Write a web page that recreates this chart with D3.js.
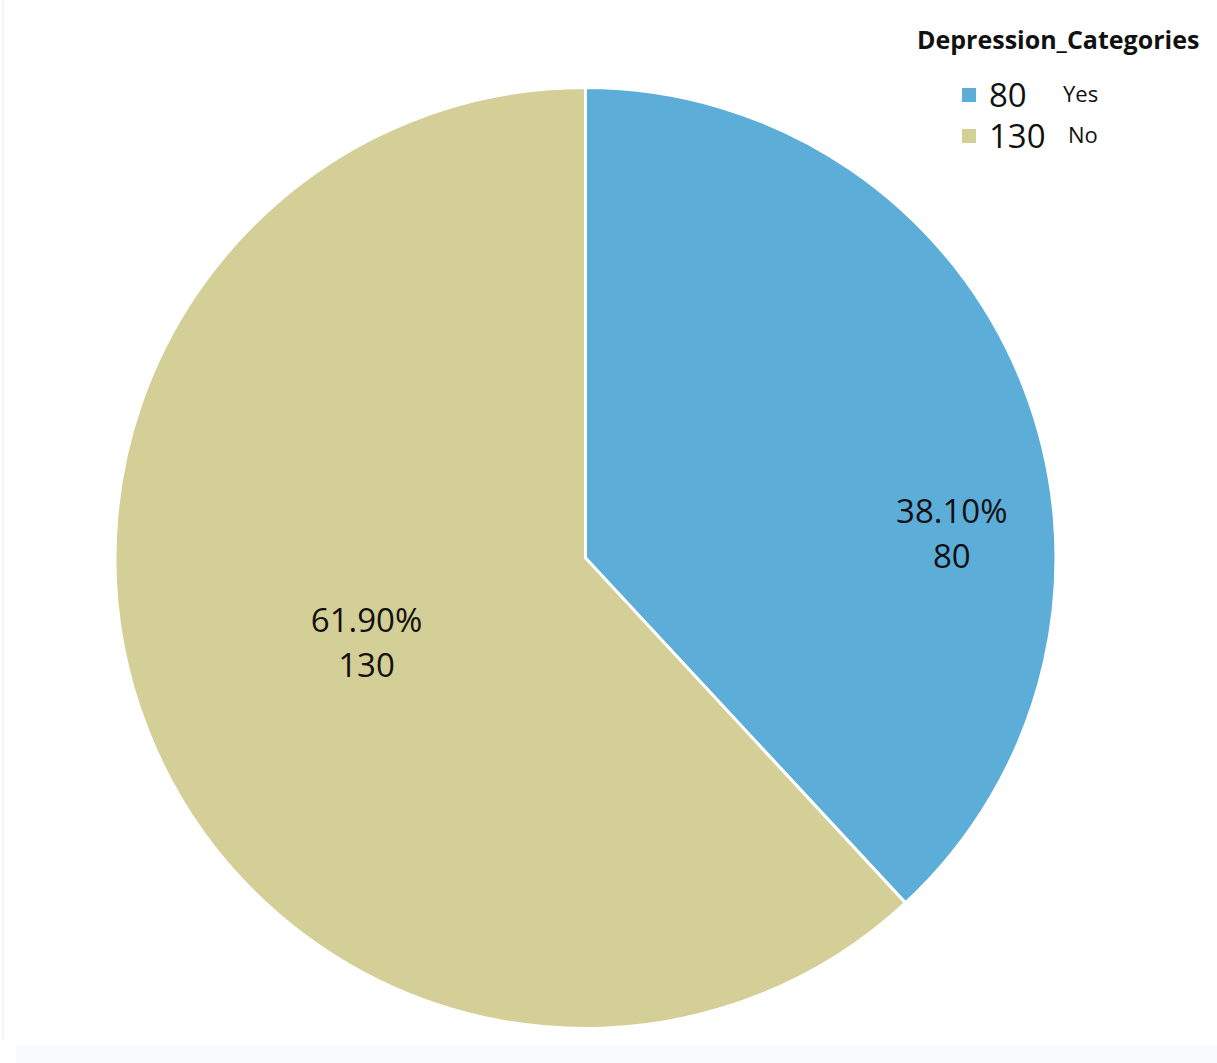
<!DOCTYPE html>
<html>
<head>
<meta charset="utf-8">
<script src="https://cdn.jsdelivr.net/npm/d3@7"></script>
<style>
  body { margin: 0; background: #fff; }
  text { font-family: "Open Sans", "Liberation Sans", sans-serif; fill: #111; }
</style>
</head>
<body>
<script>
var width = 1217, height = 1063;

// data
var categories = ["Yes", "No"];
var counts = [80, 130];
var percents = ["38.10%", "61.90%"];
var colors = ["#5dadd9", "#d4cf96"];
var legendTitle = "Depression_Categories";

// where the labels sit inside each slice (fraction of radius, angle shift in degrees)
var labelRadius = [0.78, 0.5];
var labelShift = [17.8, 0];

var cx = 585.5, cy = 558, radius = 470.5;

var svg = d3.select("body").append("svg")
    .attr("width", width)
    .attr("height", height);

// faint frame of the original screenshot
svg.append("line")
    .attr("x1", 3).attr("x2", 3).attr("y1", 0).attr("y2", 1040)
    .attr("stroke", "#ececec").attr("stroke-width", 1);
svg.append("rect")
    .attr("x", 15).attr("y", 1045).attr("width", width).attr("height", 18)
    .attr("fill", "#fafbfd");

var pie = d3.pie().sort(null).value(function(d){ return d; });
var arcs = pie(counts);

var arc = d3.arc().innerRadius(0).outerRadius(radius);

var g = svg.append("g").attr("transform", "translate(" + cx + "," + cy + ")");

g.selectAll("path")
  .data(arcs)
  .enter()
  .append("path")
  .attr("d", arc)
  .attr("fill", function(d, i){ return colors[i]; })
  .attr("stroke", "#fff")
  .attr("stroke-width", 3)
  .attr("stroke-linejoin", "miter");

// slice labels
var labels = g.selectAll(".slice-label")
  .data(arcs)
  .enter()
  .append("text")
  .attr("class", "slice-label")
  .attr("text-anchor", "middle")
  .attr("font-size", 33)
  .attr("transform", function(d, i){
    var a = (d.startAngle + d.endAngle) / 2 + labelShift[i] * Math.PI / 180;
    var r = labelRadius[i] * radius;
    return "translate(" + (r * Math.sin(a)) + "," + (-r * Math.cos(a)) + ")";
  });

labels.append("tspan")
  .attr("x", 0).attr("dy", -12)
  .text(function(d, i){ return percents[i]; });
labels.append("tspan")
  .attr("x", 0).attr("dy", 45)
  .text(function(d, i){ return counts[i]; });

// legend
var legend = svg.append("g").attr("transform", "translate(917,0)");

legend.append("text")
  .attr("x", 0).attr("y", 49)
  .attr("font-size", 25)
  .attr("font-weight", "bold")
  .text(legendTitle);

var rows = legend.selectAll(".row")
  .data(categories)
  .enter()
  .append("g")
  .attr("class", "row")
  .attr("transform", function(d, i){ return "translate(0," + (95 + i * 41) + ")"; });

rows.append("rect")
  .attr("x", 45).attr("y", -7)
  .attr("width", 14).attr("height", 14)
  .attr("fill", function(d, i){ return colors[i]; });

rows.append("text")
  .attr("x", 72).attr("y", 12)
  .attr("font-size", 33)
  .text(function(d, i){ return counts[i]; });

rows.append("text")
  .attr("x", function(d, i){ return i === 0 ? 146 : 151; })
  .attr("y", 7)
  .attr("font-size", 22)
  .text(function(d){ return d; });
</script>
</body>
</html>
